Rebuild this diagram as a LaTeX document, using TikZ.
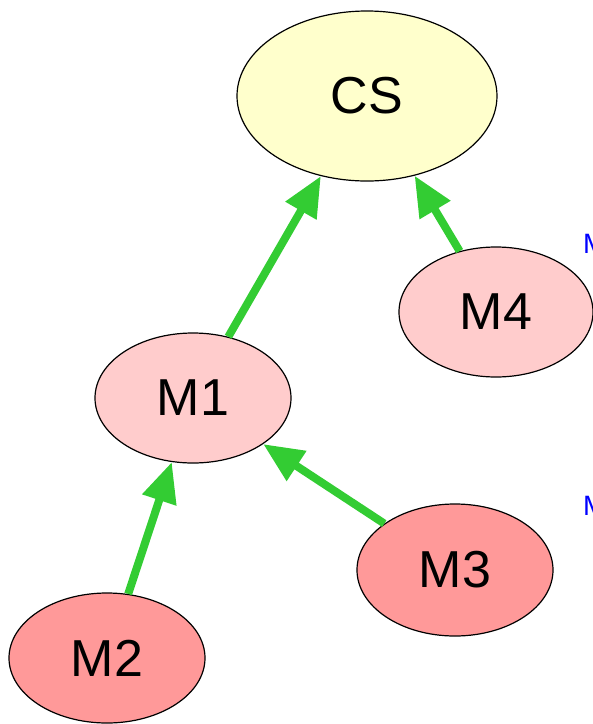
\documentclass[tikz,border=0pt]{standalone}
\usepackage{fontspec}
\setmainfont{Liberation Sans}
\usetikzlibrary{shapes.geometric,arrows.meta}
\definecolor{csfill}{HTML}{FFFFCC}
\definecolor{lightred}{HTML}{FFCCCC}
\definecolor{midred}{HTML}{FF9999}
\definecolor{edgegreen}{HTML}{33CC33}
\tikzset{
  nd/.style={ellipse, draw=black, line width=1.2pt, inner sep=0pt, font=\fontsize{52}{56}\selectfont},
  edg/.style={draw=edgegreen, line width=8pt, -{Triangle[length=40pt,width=34pt]}},
  lbl/.style={text=blue, font=\fontsize{28}{30}\selectfont, anchor=west, inner sep=0pt}
}
\begin{document}
\begin{tikzpicture}[x=1pt,y=-1pt]
\useasboundingbox (0,0) rectangle (593,724);
\node[nd, fill=csfill, minimum width=260pt, minimum height=170pt] (cs) at (367,96) {CS};
\node[nd, fill=lightred, minimum width=194pt, minimum height=130pt] (m4) at (496,312) {M4};
\node[nd, fill=lightred, minimum width=196pt, minimum height=130pt] (m1) at (193,398) {M1};
\node[nd, fill=midred, minimum width=196pt, minimum height=132pt] (m3) at (455,570) {M3};
\node[nd, fill=midred, minimum width=196pt, minimum height=130pt] (m2) at (107,658) {M2};
\node[lbl] (l1) at (583,244) {M};
\node[lbl] (l2) at (583,506) {M};
\draw[edg] (m1) -- (cs);
\draw[edg] (m4) -- (cs);
\draw[edg] (m3) -- (m1);
\draw[edg] (m2) -- (m1);
\end{tikzpicture}
\end{document}
